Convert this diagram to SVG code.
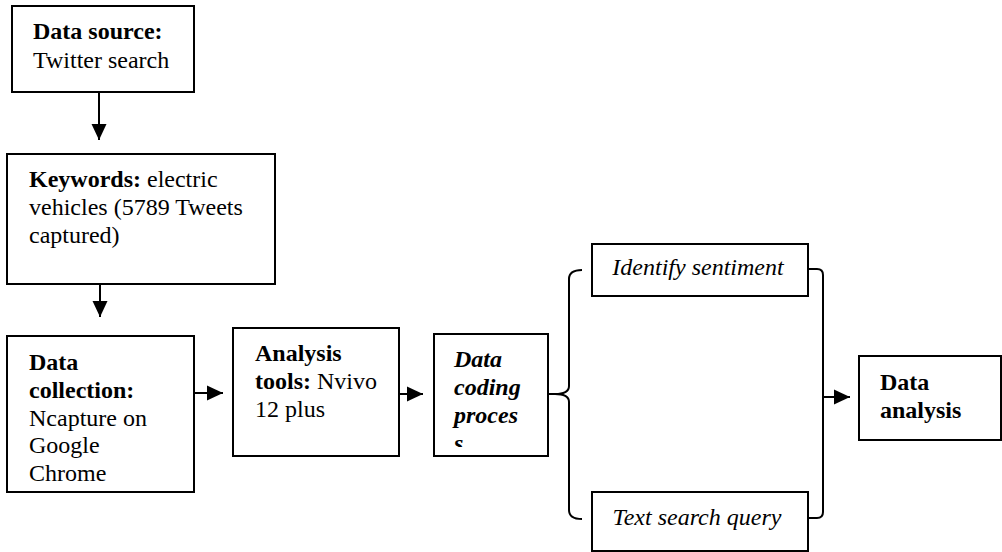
<svg xmlns="http://www.w3.org/2000/svg" width="1002" height="552" viewBox="0 0 1002 552">
<style>
.box{fill:#fff;stroke:#000;stroke-width:2}
.t{font-family:"Liberation Serif","Times New Roman",serif;font-size:24px;fill:#000}
.b{font-weight:bold}
.i{font-style:italic}
.ln{fill:none;stroke:#000;stroke-width:2}
</style>
<defs>
<marker id="ah" markerWidth="16" markerHeight="16" refX="16" refY="8" orient="auto" markerUnits="userSpaceOnUse">
<polygon points="0,0.5 16,8 0,15.5" fill="#000"/>
</marker>
<clipPath id="cp"><rect x="434" y="334" width="114" height="113"/></clipPath>
</defs>
<rect width="1002" height="552" fill="#fff"/>
<g id="connectors">
<line class="ln" x1="99" y1="92" x2="99" y2="140" marker-end="url(#ah)"/>
<line class="ln" x1="100" y1="284" x2="100" y2="317" marker-end="url(#ah)"/>
<line class="ln" x1="194" y1="393" x2="223" y2="393" marker-end="url(#ah)"/>
<line class="ln" x1="399" y1="394" x2="423" y2="394" marker-end="url(#ah)"/>
<path class="ln" d="M548,394 L555,394"/>
<path class="ln" d="M582,270 Q569,270 569,279 L569,386 Q569,394 555,394 Q569,394 569,402 L569,510 Q569,519 582,519"/>
<path class="ln" d="M808,269 L817,269 Q823,269 823,275 L823,512 Q823,518 817,518 L808,518"/>
<line class="ln" x1="823" y1="397" x2="850" y2="397" marker-end="url(#ah)"/>
</g>
<g id="n-source">
<rect class="box" x="12" y="6" width="182" height="86"/>
<text class="t" x="33" y="39"><tspan class="b">Data source:</tspan></text>
<text class="t" x="33" y="68">Twitter search</text>
</g>
<g id="n-keywords">
<rect class="box" x="7" y="154" width="268" height="130"/>
<text class="t" x="29" y="187"><tspan class="b">Keywords:</tspan> electric</text>
<text class="t" x="29" y="215">vehicles (5789 Tweets</text>
<text class="t" x="29" y="243">captured)</text>
</g>
<g id="n-collection">
<rect class="box" x="7" y="336" width="187" height="156"/>
<text class="t b" x="29" y="370">Data</text>
<text class="t b" x="29" y="398">collection:</text>
<text class="t" x="29" y="426">Ncapture on</text>
<text class="t" x="29" y="453">Google</text>
<text class="t" x="29" y="481">Chrome</text>
</g>
<g id="n-tools">
<rect class="box" x="233" y="328" width="166" height="128"/>
<text class="t b" x="255" y="361">Analysis</text>
<text class="t" x="255" y="389"><tspan class="b">tools:</tspan> Nvivo</text>
<text class="t" x="255" y="417">12 plus</text>
</g>
<g id="n-coding">
<rect class="box" x="434" y="334" width="114" height="122"/>
<g clip-path="url(#cp)">
<text class="t b i" x="454" y="367">Data</text>
<text class="t b i" x="454" y="395">coding</text>
<text class="t b i" x="454" y="423">proces</text>
<text class="t b i" x="454" y="451">s</text>
</g>
</g>
<g id="n-sentiment">
<rect class="box" x="592" y="244" width="216" height="52"/>
<text class="t i" x="698" y="275" text-anchor="middle">Identify sentiment</text>
</g>
<g id="n-query">
<rect class="box" x="592" y="492" width="216" height="59"/>
<text class="t i" x="697" y="525" text-anchor="middle">Text search query</text>
</g>
<g id="n-analysis">
<rect class="box" x="859" y="356" width="142" height="84"/>
<text class="t b" x="880" y="390">Data</text>
<text class="t b" x="880" y="418">analysis</text>
</g>
</svg>
